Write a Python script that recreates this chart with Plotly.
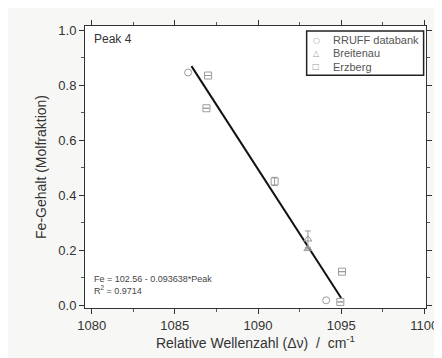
import plotly.graph_objects as go

# Data
rruff_x = [1085.8, 1094.1]
rruff_y = [0.846, 0.018]

breit_x = [1093.0, 1093.0]
breit_y = [0.24, 0.205]
breit_err = [0.03, 0.0]

erz_x = [1087.0, 1086.9, 1091.0, 1095.05, 1094.95]
erz_y = [0.835, 0.716, 0.45, 0.122, 0.012]
erz_err = [0.0, 0.0, 0.015, 0.0, 0.0]

# Linear fit Fe = a - b*Peak
fit_a = 102.56
fit_b = 0.093638
fit_x = [1086.0, 1095.0]
fit_y = [fit_a - fit_b * x for x in fit_x]

x_ticks = [1080, 1085, 1090, 1095, 1100]
y_ticks = [0.0, 0.2, 0.4, 0.6, 0.8, 1.0]

series_names = ["RRUFF databank", "Breitenau", "Erzberg"]
series_glyphs = ["○", "△", "□"]

grey = "#9a9a9a"
font = "Liberation Sans, Arial, sans-serif"

fig = go.Figure()
fig.add_trace(go.Scatter(x=fit_x, y=fit_y, mode="lines",
                         line=dict(color="#111111", width=2), showlegend=False))
fig.add_trace(go.Scatter(x=rruff_x, y=rruff_y, mode="markers", name=series_names[0],
                         marker=dict(symbol="circle-open", size=7, color=grey, line=dict(width=1))))
fig.add_trace(go.Scatter(x=breit_x, y=breit_y, mode="markers", name=series_names[1],
                         error_y=dict(type="data", array=breit_err, color=grey, thickness=1, width=3),
                         marker=dict(symbol="triangle-up-open", size=7, color=grey, line=dict(width=1))))
fig.add_trace(go.Scatter(x=erz_x, y=erz_y, mode="markers", name=series_names[2],
                         error_y=dict(type="data", array=erz_err, color=grey, thickness=1, width=3),
                         marker=dict(symbol="square-open", size=7, color=grey, line=dict(width=1))))

axis_common = dict(showgrid=False, zeroline=False, showline=True, linecolor="#333333",
                   linewidth=1, mirror="ticks", ticks="outside", ticklen=5, tickcolor="#333333",
                   tickfont=dict(family=font, size=13, color="#333333"))

fig.update_xaxes(range=[1079.6, 1100.1], tickvals=x_ticks,
                 minor=dict(dtick=2.5, ticks="outside", ticklen=3, tickcolor="#555555"),
                 title=dict(text="Relative Wellenzahl (Δν)  /  cm<sup>-1</sup>",
                            font=dict(family=font, size=14, color="#333333"), standoff=6),
                 **axis_common)
fig.update_yaxes(range=[-0.01, 1.015], tickvals=y_ticks, tickformat=".1f",
                 minor=dict(dtick=0.1, ticks="outside", ticklen=3, tickcolor="#555555"),
                 title=dict(text="Fe-Gehalt (Molfraktion)",
                            font=dict(family=font, size=14, color="#333333"), standoff=8),
                 **axis_common)

fig.add_annotation(x=0.02, y=0.985, xref="paper", yref="paper", xanchor="left", yanchor="top",
                   text="Peak 4", showarrow=False, font=dict(family=font, size=12, color="#333333"))
fig.add_annotation(x=0.02, y=0.035, xref="paper", yref="paper", xanchor="left", yanchor="bottom",
                   text="Fe = 102.56 - 0.093638*Peak<br>R<sup>2</sup> = 0.9714", align="left",
                   showarrow=False, font=dict(family=font, size=9, color="#444444"))

# Compact legend box (drawn manually to match the tight spacing)
fig.add_shape(type="rect", xref="paper", yref="paper", x0=0.65, x1=0.993, y0=0.825, y1=0.982,
              line=dict(color="#222222", width=1.5), fillcolor="#ffffff", layer="above")
legend_rows_y = [0.950, 0.903, 0.856]
for name, glyph, yy in zip(series_names, series_glyphs, legend_rows_y):
    fig.add_annotation(x=0.678, y=yy, xref="paper", yref="paper", xanchor="center", yanchor="middle",
                       text=glyph, showarrow=False, font=dict(family="DejaVu Sans", size=8, color=grey))
    fig.add_annotation(x=0.722, y=yy, xref="paper", yref="paper", xanchor="left", yanchor="middle",
                       text=name, showarrow=False, font=dict(family=font, size=11, color="#555555"))

fig.update_layout(
    width=442, height=358,
    margin=dict(l=77, r=14, t=15, b=58),
    paper_bgcolor="#f7f7f5", plot_bgcolor="#ffffff",
    showlegend=False,
)

fig.write_html("out.html")
